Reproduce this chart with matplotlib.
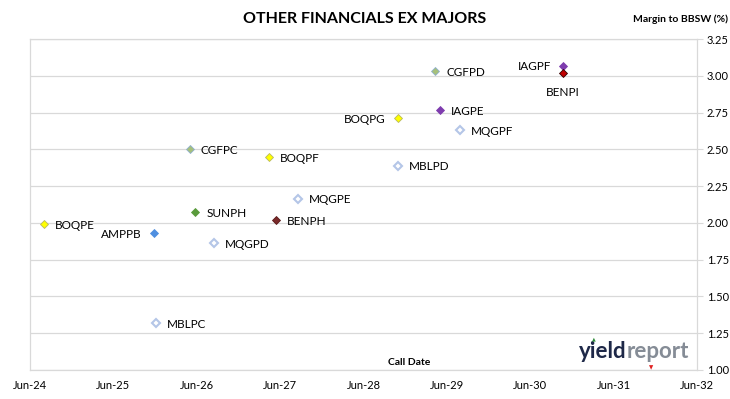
import matplotlib.pyplot as plt
import matplotlib.dates as mdates
import numpy as np
from datetime import date

plt.rcParams['font.family'] = ['Lato', 'DejaVu Sans']

# securities: call date and margin to BBSW (%)
names = ['BOQPE', 'AMPPB', 'MBLPC', 'CGFPC', 'SUNPH', 'MQGPD', 'BOQPF', 'BENPH',
         'MQGPE', 'MBLPD', 'BOQPG', 'CGFPD', 'IAGPE', 'MQGPF', 'IAGPF', 'BENPI']
call_dates = [date(2024, 8, 1), date(2025, 11, 26), date(2025, 12, 3), date(2026, 5, 2),
              date(2026, 5, 27), date(2026, 8, 15), date(2027, 4, 13), date(2027, 5, 13),
              date(2027, 8, 17), date(2028, 10, 29), date(2028, 11, 1), date(2029, 4, 11),
              date(2029, 5, 3), date(2029, 7, 29), date(2030, 10, 21), date(2030, 10, 21)]
margins = [1.99, 1.93, 1.32, 2.50, 2.075, 1.86, 2.45, 2.02,
           2.165, 2.39, 2.71, 3.03, 2.77, 2.63, 3.07, 3.02]

# marker style per issuer: (face, edge)
styles = {
    'BOQ': ('#FFFF00', '#B8B860'),
    'AMP': ('#4F8FE0', '#4F8FE0'),
    'MBL': ('white', '#B4C6E7'),
    'MQG': ('white', '#B4C6E7'),
    'CGF': ('#A6C07A', '#8FAFCF'),
    'SUN': ('#5A9B3C', '#5A9B3C'),
    'BEN': ('#7A2A2A', '#5A1A1A'),
    'IAG': ('#7E3CAE', '#7E3CAE'),
}
# label placement (offset in points, alignment)
label_pos = {
    'AMPPB': (-9, -1, 'right', 'center'),
    'BOQPG': (-9, -1, 'right', 'center'),
    'IAGPF': (-8, -1, 'right', 'center'),
    'BENPI': (0, -14, 'center', 'center'),
}

fig = plt.figure(figsize=(7.3, 3.99), dpi=100)
ax = fig.add_axes([0.041, 0.073, 0.914, 0.829])

for n, d, m in zip(names, call_dates, margins):
    fc, ec = styles[n[:3]]
    if n == 'BENPI':
        fc, ec = '#C00000', '#300000'
    lw = 1.5 if fc == 'white' else 0.6
    ax.plot(mdates.date2num(d), m, marker='D', markersize=3.8, markerfacecolor=fc,
            markeredgecolor=ec, markeredgewidth=lw, linestyle='none', zorder=3)
    dx, dy, ha, va = label_pos.get(n, (8, -1, 'left', 'center'))
    ax.annotate(n, (mdates.date2num(d), m), xytext=(dx, dy), textcoords='offset points',
                ha=ha, va=va, fontsize=8.5, color='black')

ax.set_xlim(mdates.date2num(date(2024, 6, 1)), mdates.date2num(date(2032, 6, 1)))
ax.set_ylim(1.0, 3.25)
ax.set_xticks([mdates.date2num(date(y, 6, 1)) for y in range(2024, 2033)])
ax.xaxis.set_major_formatter(mdates.DateFormatter('Jun-%y'))
ax.set_yticks(np.arange(1.0, 3.26, 0.25))
ax.yaxis.set_major_formatter(plt.FormatStrFormatter('%.2f'))
ax.yaxis.tick_right()
ax.grid(axis='y', color='#D9D9D9', linewidth=0.9)
ax.set_axisbelow(True)
for s in ax.spines.values():
    s.set_color('#D9D9D9')
    s.set_linewidth(0.9)
ax.tick_params(axis='x', length=0, labelsize=8, pad=7, colors='black')
ax.tick_params(axis='y', length=4, color='#D9D9D9', labelsize=8, pad=3, labelcolor='black')

fig.text(0.5, 0.952, 'OTHER FINANCIALS EX MAJORS', ha='center', va='center',
         fontsize=11.5, fontweight='bold')
fig.text(0.997, 0.952, 'Margin to BBSW (%)', ha='right', va='center',
         fontsize=7.5, fontweight='bold')
fig.text(0.56, 0.092, 'Call Date', ha='center', va='center', fontsize=7.5, fontweight='bold')

# yieldreport logo
fig.text(0.793, 0.118, 'yield', ha='left', va='center', fontsize=16, fontweight='bold',
         color='#1E2848')
fig.text(0.858, 0.118, 'report', ha='left', va='center', fontsize=16, fontweight='bold',
         color='#858C96')
fig.text(0.813, 0.150, '\u25B2', ha='center', va='center', fontsize=3.5, color='#2E8B3A',
         family=['DejaVu Sans'])
fig.text(0.892, 0.078, '\u25BC', ha='center', va='center', fontsize=4, color='#E02020',
         family=['DejaVu Sans'])

fig.savefig('out.png', dpi=100)
